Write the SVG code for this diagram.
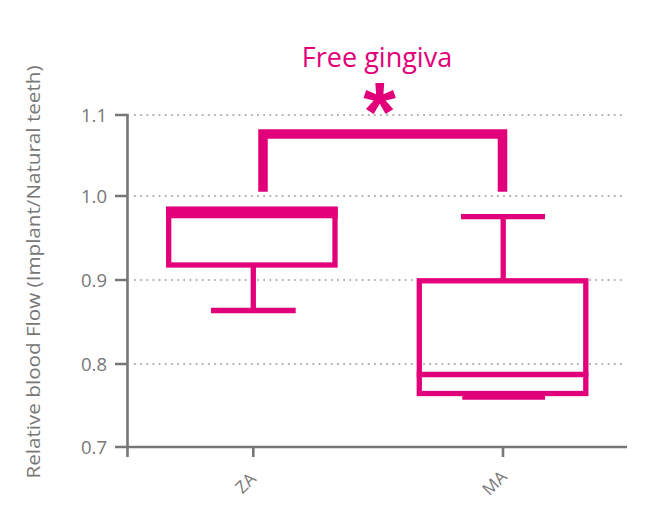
<svg xmlns="http://www.w3.org/2000/svg" width="657" height="528" viewBox="0 0 657 528">
<style>
.grid{stroke:#aaaaaa;stroke-width:2.2;stroke-linecap:round;stroke-dasharray:0 6.15;fill:none}
.axis{stroke:#777777;stroke-width:2.6;fill:none}
.tick{font-family:"Open Sans","Noto Sans",sans-serif;font-size:18.5px;fill:#777777;text-anchor:end}
.cat{font-family:"Open Sans","Noto Sans",sans-serif;font-size:17px;fill:#777777;text-anchor:end}
.title{font-family:"Open Sans","Noto Sans",sans-serif;fill:#777777}
.box{stroke:#E2007A;stroke-width:5.3;fill:none;stroke-linecap:butt}
.mag{fill:#E2007A}
</style>
<rect width="657" height="528" fill="#ffffff"/>
<g id="gridlines">
<line class="grid" x1="135" y1="115" x2="622" y2="115"/>
<line class="grid" x1="135" y1="196" x2="622" y2="196"/>
<line class="grid" x1="135" y1="280" x2="622" y2="280"/>
<line class="grid" x1="135" y1="364" x2="622" y2="364"/>
</g>
<g id="axes">
<path class="axis" d="M115,115 H127.5 V457"/>
<path class="axis" d="M115,196 H127.5 M115,280 H127.5 M115,364 H127.5 M115,447 H627"/>
<path class="axis" d="M253.3,447 V457 M503,447 V457"/>
<text class="tick" x="107" y="121.5">1.1</text>
<text class="tick" x="107" y="202.5">1.0</text>
<text class="tick" x="107" y="286.5">0.9</text>
<text class="tick" x="107" y="370.5">0.8</text>
<text class="tick" x="107" y="453.5">0.7</text>
<text class="cat" transform="translate(257,480) rotate(-45)">ZA</text>
<text class="cat" transform="translate(508,478) rotate(-45)">MA</text>
<text class="title" font-size="19" text-anchor="middle" textLength="413" lengthAdjust="spacingAndGlyphs" transform="translate(40,272) rotate(-90)">Relative blood Flow (Implant/Natural teeth)</text>
</g>
<g id="box-ZA">
<rect class="box" x="168.7" y="209.3" width="166.3" height="55.7"/>
<rect class="mag" x="166" y="206.7" width="171.7" height="11.6"/>
<line class="box" x1="253.3" y1="265" x2="253.3" y2="310.5"/>
<line class="box" x1="211" y1="310.5" x2="295.7" y2="310.5"/>
</g>
<g id="box-MA">
<line class="box" x1="503.2" y1="216.7" x2="503.2" y2="280.8"/>
<line class="box" x1="461" y1="216.7" x2="545" y2="216.7"/>
<line class="box" x1="462.3" y1="397" x2="545" y2="397"/>
<rect class="box" x="419.3" y="280.8" width="166.5" height="112.7"/>
<line class="box" x1="416.7" y1="374.5" x2="588.4" y2="374.5"/>
</g>
<g id="significance">
<path d="M263,191.7 V134 H502.5 V191.7" stroke="#E2007A" stroke-width="9.5" fill="none" stroke-linejoin="miter"/>
<text class="mag" x="379.5" y="141" font-family="Liberation Sans, Arial, sans-serif" font-weight="bold" font-size="84" text-anchor="middle">*</text>
</g>
<g id="title">
<text class="mag" x="377" y="66.7" font-family="Open Sans, Noto Sans, sans-serif" font-size="27" text-anchor="middle">Free gingiva</text>
</g>
</svg>
